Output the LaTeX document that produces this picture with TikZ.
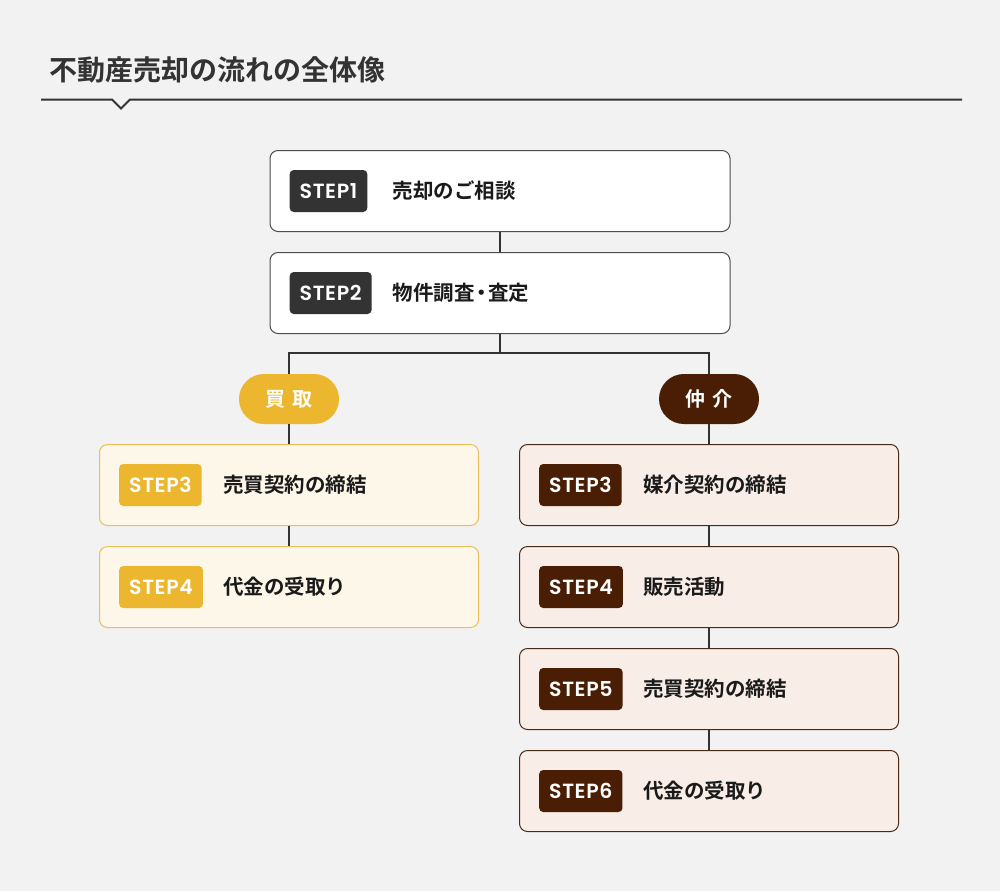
\documentclass[tikz,border=0pt]{standalone}
\usepackage{fontspec}
\newfontfamily\jp{Noto Sans CJK JP}[UprightFont=* Medium, BoldFont=* Bold]
\newfontfamily\stepf{Poppins}[UprightFont=* SemiBold, BoldFont=* Bold, LetterSpace=3]
\definecolor{bgc}{HTML}{F2F2F2}
\definecolor{dark}{HTML}{333333}
\definecolor{grayb}{HTML}{4D4D4D}
\definecolor{ink}{HTML}{1A1A1A}
\definecolor{yel}{HTML}{ECB72E}
\definecolor{yelfill}{HTML}{FDF7E9}
\definecolor{yelline}{HTML}{E8C05A}
\definecolor{brn}{HTML}{4A1E04}
\definecolor{brnfill}{HTML}{F8EDE7}
\definecolor{brnline}{HTML}{4A2A14}
\begin{document}
\begin{tikzpicture}[x=1pt,y=-1pt,
  stepbox/.style={draw, line width=1pt, rounded corners=8pt, minimum width=#1, minimum height=81pt, inner sep=0pt},
  graybox/.style={stepbox=460pt, draw=grayb, fill=white},
  yelbox/.style={stepbox=379pt, draw=yelline, fill=yelfill},
  brnbox/.style={stepbox=379pt, draw=brnline, fill=brnfill},
  badge/.style={anchor=west, rounded corners=4pt, minimum height=42pt, inner xsep=10pt, inner ysep=0pt, text=white, font=\stepf\fontsize{20.5}{22}\selectfont},
  lbl/.style={anchor=west, inner sep=0pt, text=ink, font=\jp\bfseries\fontsize{20.5}{23}\selectfont},
  pill/.style={rounded corners=24.9pt, minimum width=100pt, minimum height=50pt, inner sep=0pt, text=white, font=\jp\bfseries\fontsize{20}{22}\selectfont},
  conn/.style={draw=dark, line width=2pt}
]
\fill[bgc] (0,0) rectangle (1000,891);
\useasboundingbox (0,0) rectangle (1000,891);

% title
\node[anchor=west, inner sep=0pt, text=dark, font=\jp\bfseries\fontsize{28}{31}\selectfont] (title) at (49,70) {不動産売却の流れの全体像};
\draw[dark, line width=2pt, line join=miter] (41,99.5) -- (112,99.5) -- (121,108.5) -- (130,99.5) -- (962,99.5);

% common steps
\node[graybox] (s1) at (500,191) {};
\node[graybox] (s2) at (500,293) {};
\node[badge, fill=dark] (b1) at ([xshift=20pt]s1.west) {STEP1};
\node[lbl] (l1) at ([xshift=123pt]s1.west) {売却のご相談};
\node[badge, fill=dark] (b2) at ([xshift=20pt]s2.west) {STEP2};
\node[lbl] (l2) at ([xshift=123pt]s2.west) {物件調査\hspace{-3.5pt}・\hspace{-3.5pt}査定};

% pills
\node[pill, fill=yel] (p1) at (289,399) {買\hspace{7pt}取};
\node[pill, fill=brn] (p2) at (709,399) {仲\hspace{7pt}介};

% left branch
\node[yelbox] (y3) at (289,485) {};
\node[yelbox] (y4) at (289,587) {};
\node[badge, fill=yel] (yb3) at ([xshift=20pt]y3.west) {STEP3};
\node[lbl] (yl3) at ([xshift=124pt]y3.west) {売買契約の締結};
\node[badge, fill=yel] (yb4) at ([xshift=20pt]y4.west) {STEP4};
\node[lbl] (yl4) at ([xshift=124pt]y4.west) {代金の受取り};

% right branch
\node[brnbox] (r3) at (709,485) {};
\node[brnbox] (r4) at (709,587) {};
\node[brnbox] (r5) at (709,689) {};
\node[brnbox] (r6) at (709,791) {};
\node[badge, fill=brn] (rb3) at ([xshift=20pt]r3.west) {STEP3};
\node[lbl] (rl3) at ([xshift=124pt]r3.west) {媒介契約の締結};
\node[badge, fill=brn] (rb4) at ([xshift=20pt]r4.west) {STEP4};
\node[lbl] (rl4) at ([xshift=124pt]r4.west) {販売活動};
\node[badge, fill=brn] (rb5) at ([xshift=20pt]r5.west) {STEP5};
\node[lbl] (rl5) at ([xshift=124pt]r5.west) {売買契約の締結};
\node[badge, fill=brn] (rb6) at ([xshift=20pt]r6.west) {STEP6};
\node[lbl] (rl6) at ([xshift=124pt]r6.west) {代金の受取り};

% connectors
\coordinate (split) at (500,353);
\draw[conn] (s1.south) -- (s2.north);
\draw[conn] (s2.south) -- (split) -| (p1.north);
\draw[conn] (split) -| (p2.north);
\draw[conn] (p1.south) -- (y3.north);
\draw[conn] (y3.south) -- (y4.north);
\draw[conn] (p2.south) -- (r3.north);
\draw[conn] (r3.south) -- (r4.north);
\draw[conn] (r4.south) -- (r5.north);
\draw[conn] (r5.south) -- (r6.north);
\end{tikzpicture}
\end{document}
